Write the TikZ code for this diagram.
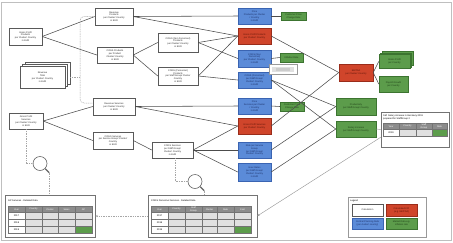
\documentclass[tikz,border=0pt]{standalone}
\usepackage{fontspec}
\setmainfont{Liberation Sans}
\usetikzlibrary{arrows.meta}
\newcommand\tf{\fontsize{2.35}{2.8}\selectfont}
\definecolor{bfill}{HTML}{5B8BD8}
\definecolor{bdraw}{HTML}{3A64B2}
\definecolor{btext}{HTML}{1C2F66}
\definecolor{rfill}{HTML}{D0452B}
\definecolor{rdraw}{HTML}{9A2C1A}
\definecolor{rtext}{HTML}{5A1408}
\definecolor{gfill}{HTML}{5C9C4B}
\definecolor{gdraw}{HTML}{3C7430}
\definecolor{gtext}{HTML}{1E3E16}
\begin{document}
\begin{tikzpicture}[x=1pt,y=-1pt,
  every node/.style={font=\tf, align=center, inner sep=0pt},
  sz/.style 2 args={minimum width=#1pt, minimum height=#2pt},
  wbox/.style={draw=black!65, fill=white, line width=0.45pt, text=black!85},
  bbox/.style={draw=bdraw, fill=bfill, line width=0.45pt, text=btext},
  rbox/.style={draw=rdraw, fill=rfill, line width=0.45pt, text=rtext},
  gbox/.style={draw=gdraw, fill=gfill, line width=0.45pt, text=gtext},
  conn/.style={draw=black!70, line width=0.55pt},
  dline/.style={draw=black!35, line width=0.5pt, dash pattern=on 1pt off 0.7pt},
  lline/.style={draw=black!40, line width=0.45pt},
  panel/.style={draw=black!55, fill=white, line width=0.5pt},
  grid/.style={draw=black!55, line width=0.3pt}
]
\useasboundingbox (0,0) rectangle (453,242);
\draw[black!25, line width=0.5pt] (1.5,2) rectangle (451.5,240);

% ---------- left column ----------
\node[wbox, sz={33}{17}] (gpP) at (25.5,36.5) {Gross Profit\\Products\\per Cluster/ Country\\in EUR};
\node[wbox, sz={45}{22}] (revB3) at (47.5,73) {};
\node[wbox, sz={45}{22}] (revB2) at (45,75) {};
\node[wbox, sz={45}{22}] (revF) at (42.5,77) {Revenue\\Total\\per Cluster/ Country\\in EUR};
\node[wbox, sz={34}{16}] (gpS) at (26,121) {Gross Profit\\Services\\per Cluster/ Country\\in EUR};

% ---------- second column ----------
\node[wbox, sz={38}{17}] (revP) at (114,16.5) {Revenue\\Products\\per Cluster/ Country\\in EUR};
\node[wbox, sz={36}{16}] (cogsP) at (115,55) {COGS Products\\per Product\\Cluster/ Country\\in EUR};
\node[wbox, sz={42}{17}] (revS) at (114,106.5) {Revenue Services\\per Cluster/ Country\\in EUR};
\node[wbox, sz={40}{17}] (cogsS) at (113,140.5) {COGS Services\\per Service Group/ Cluster/\\Country\\in EUR};

% ---------- third column ----------
\node[wbox, sz={40}{19}] (cogsNP) at (178,42.5) {COGS (Non Personnel)\\Products\\per Cluster/ Country\\in EUR};
\node[wbox, sz={40}{18}] (cogsPP) at (178,76) {COGS (Personnel)\\Products\\per Staff Group/ Cluster\\Country\\in EUR};
\node[wbox, sz={41}{16}] (cogsSP) at (172.5,150) {COGS Services\\per Staff Group/\\Cluster/ Country\\in EUR};

% ---------- coloured column ----------
\node[bbox, sz={33}{16}] (priceP) at (254.5,16) {Price\\Products per Cluster\\/ Country\\in EUR};
\node[rbox, sz={33}{16}] (gpPred) at (254.5,36) {Gross Profit Products\\per Cluster/ Country};
\node[bbox, sz={33}{17}] (nonpers) at (254.5,58.5) {COGS (Non\\Personnel)\\per Cluster/ Country\\in EUR};
\node[bbox, sz={33}{16}] (pers) at (254.5,80) {COGS (Personnel)\\per Staff Group/\\Cluster/ Country\\in EUR};
\node[bbox, sz={33}{16}] (priceS) at (254.5,106) {Price\\Services per Cluster\\/ Country\\in EUR};
\node[rbox, sz={33}{16}] (gpSred) at (254.5,126) {Gross Profit Services\\per Cluster/ Country};
\node[bbox, sz={33}{16}] (rate) at (254.5,150) {Rate per Service\\Group\\per Staff Group/\\Cluster/ Country};
\node[bbox, sz={33}{18}] (hour) at (254.5,172) {Hour Rates\\per Staff Group/\\Cluster/ Country\\in EUR};

\node[gbox, sz={25}{8}] (green1) at (293.5,16) {Customer Price\\Change Rate};
\node[gbox, sz={23}{9}] (green2) at (291.5,57.5) {Inflation Rate};
\node[gbox, sz={24}{9}] (green3) at (292,106.5) {Customer Price\\Change Rate};
\node[draw=black!40, fill=white, line width=0.45pt, sz={28}{10}] (blur) at (283,69) {};
\fill[black!12] (272,66.5) rectangle (294,71.5);
\fill[black!20] (276,67.5) rectangle (290,70.5);

% ---------- right part ----------
\node[rbox, sz={34}{17}] (ebitda) at (356,72.5) {EBITDA\\per Cluster/ Country};
\node[gbox, sz={31}{14}] (gpst3) at (397.5,58.5) {};
\node[gbox, sz={31}{14}] (gpst2) at (396,60) {};
\node[gbox, sz={31}{14}] (gpst) at (394.5,61.5) {Gross Profit\\per Country};
\node[gbox, sz={29}{16}] (payroll) at (393.5,84) {Payroll Growth\\per Country};
\node[gbox, sz={40}{17}] (prod) at (356,106.5) {Productivity\\per Staff Group/ Country};
\node[gbox, sz={40}{16}] (salary) at (356,129) {Salary increase\\per Staff Group/ Country};

% ---------- salary table ----------
\node[panel, sz={68}{35}] (saltab) at (415,129.5) {};
\node[anchor=north west, align=left] (saltitle) at (383,114.5) {SM: Salary increase in Germany 2019\\prepared for StaffGroup 2};
\fill[black!45] (383,123) rectangle (447,129.5);
\fill[black!12] (399,129.5) rectangle (432,136);
\fill[gfill] (432,129.5) rectangle (447,136);
\draw[grid] (383,123) rectangle (447,136);
\draw[grid] (383,129.5) -- (447,129.5);
\foreach \x in {399,416,432} \draw[grid] (\x,123) -- (\x,136);
\foreach \x/\t [count=\i] in {391/Year,407.5/Country,424/Staff\\Group,439.5/Rate}
  \node[text=white] (sh\i) at (\x,126.25) {\t};
\node (sy) at (391,132.75) {2019};

% ---------- detailed tables ----------
\node[panel, sz={90}{42}] (gptab) at (50,216) {};
\node[anchor=west] (gptitle) at (8,200.5) {GP Services - Detailed Data};
\fill[black!45] (8,206) rectangle (92,212.5);
\fill[black!12] (25,212.5) rectangle (92,233.5);
\fill[gfill] (75,226.5) rectangle (92,233.5);
\draw[grid] (8,206) rectangle (92,233.5);
\foreach \y in {212.5,219.5,226.5} \draw[grid] (8,\y) -- (92,\y);
\foreach \x in {25,42,58,75} \draw[grid] (\x,206) -- (\x,233.5);
\foreach \x/\t [count=\i] in {16.5/Year,33.5/Country,50/Cluster,66.5/Sales,83.5/GP}
  \node[text=white] (gh\i) at (\x,209.25) {\t};
\foreach \y/\t [count=\i] in {216/2017,223/2018,230/2019}
  \node (gy\i) at (16.5,\y) {\t};

\node[panel, sz={109}{42}] (cogstab) at (202.5,216) {};
\node[anchor=west] (cogstitle) at (151,200.5) {COGS Personnel Services - Detailed Data};
\fill[black!45] (151,206) rectangle (251,212.5);
\fill[black!12] (168,212.5) rectangle (251,233.5);
\fill[gfill] (234,226.5) rectangle (251,233.5);
\draw[grid] (151,206) rectangle (251,233.5);
\foreach \y in {212.5,219.5,226.5} \draw[grid] (151,\y) -- (251,\y);
\foreach \x in {168,185,202,217,234} \draw[grid] (\x,206) -- (\x,233.5);
\foreach \x/\t [count=\i] in {159.5/Year,176.5/Country,193.5/Staff\\Group,209.5/Cluster,225.5/Rate,242.5/Cost}
  \node[text=white] (ch\i) at (\x,209.25) {\t};
\foreach \y/\t [count=\i] in {216/2017,223/2018,230/2019}
  \node (cy\i) at (159.5,\y) {\t};

% ---------- magnifiers ----------
\node[draw=black!60, line width=0.6pt, circle, minimum size=14pt] (mag1) at (40,163.5) {};
\node[draw=black!60, line width=0.6pt, circle, minimum size=14pt] (mag2) at (195,181.5) {};
\draw[black!60, line width=1.1pt] (mag1.south east) -- ++(4,4) coordinate (h1);
\draw[black!60, line width=1.1pt] (mag2.south east) -- ++(4,4) coordinate (h2);
\draw[dline] (gpS.south) |- (mag1.west);
\draw[dline] (h1) -- (h1 |- gptab.north);
\draw[dline] ([xshift=2.5pt]cogsSP.south) |- (mag2.west);
\draw[dline] (h2) -- (h2 |- cogstab.north);

% ---------- legend ----------
\node[panel, draw=black!40, sz={78}{40}] (legend) at (387,217) {};
\node[anchor=west] (legt) at (350,200.5) {Legend};
\node[wbox, sz={31}{12}] (lg1) at (367.5,210) {Calculation};
\node[rbox, sz={31}{12}] (lg2) at (401.5,210) {Calculated KPI\\(e.g. EBITDA)};
\node[bbox, sz={31}{11}] (lg3) at (367.5,223.5) {Central Planning Data\\(per cluster/ country)};
\node[gbox, sz={31}{11}] (lg4) at (401.5,223.5) {Market Data e.g.\\inflation rate};

% ---------- connectors ----------
\draw[conn] (gpP.east) -- (revP.west);
\draw[conn] (gpP.east) -- (cogsP.west);
\draw[conn] (gpS.east) -- (revS.west);
\draw[conn] (gpS.east) -- (cogsS.west);
\draw[conn] (revP.east) -- (priceP.west);
\draw[conn] (revP.east) -- (gpPred.west);
\draw[conn] (cogsP.east) -- (cogsNP.west);
\draw[conn] (cogsP.east) -- (cogsPP.west);
\draw[conn] (cogsNP.east) -- (gpPred.west);
\draw[conn] (cogsNP.east) -- (nonpers.west);
\draw[conn] (cogsPP.east) -- (gpPred.west);
\draw[conn] (cogsPP.east) -- (pers.west);
\draw[conn] (revS.east) -- (priceS.west);
\draw[conn] (revS.east) -- (gpSred.west);
\draw[conn] (cogsS.east) -- (cogsSP.west);
\draw[conn] (cogsSP.east) -- (gpSred.west);
\draw[conn] (cogsSP.east) -- (rate.west);
\draw[conn] (cogsSP.east) -- (hour.west);
\draw[conn] (priceP.east) -- (green1.west);
\draw[conn] (nonpers.east) -- (green2.west);
\draw[conn] (priceS.east) -- (green3.west);
\draw[conn] (gpPred.east) -- (ebitda.west);
\draw[conn] (gpSred.east) -- (ebitda.west);
\draw[conn] (ebitda.east) -- (gpst.west);
\draw[conn] (ebitda.east) -- (payroll.west);
\draw[conn] (pers.east) -- (prod.west);
\draw[conn] (pers.east) -- (salary.west);
\draw[conn] (rate.east) -- (prod.west);
\draw[conn] (hour.east) -- (salary.west);
\draw[lline] (salary.east) -- (saltab.west);

% dashed bracket from revenue stack
\coordinate (bk) at (80,77);
\draw[dline, rounded corners=4pt] (revP.west) -| (bk) |- ([yshift=3.5pt]revS.west);
\draw[dline] (revB3.east |- revF.east) -- (bk);

% table links
\draw[dline, -{Stealth[length=2.5pt,width=2pt]}] (cogstab.west) -- (cogstab.west -| gptab.east);
\draw[lline, -{Stealth[length=2.5pt,width=2pt]}] ([yshift=10pt]saltab.south west) -- (cogstab.east);
\end{tikzpicture}
\end{document}
